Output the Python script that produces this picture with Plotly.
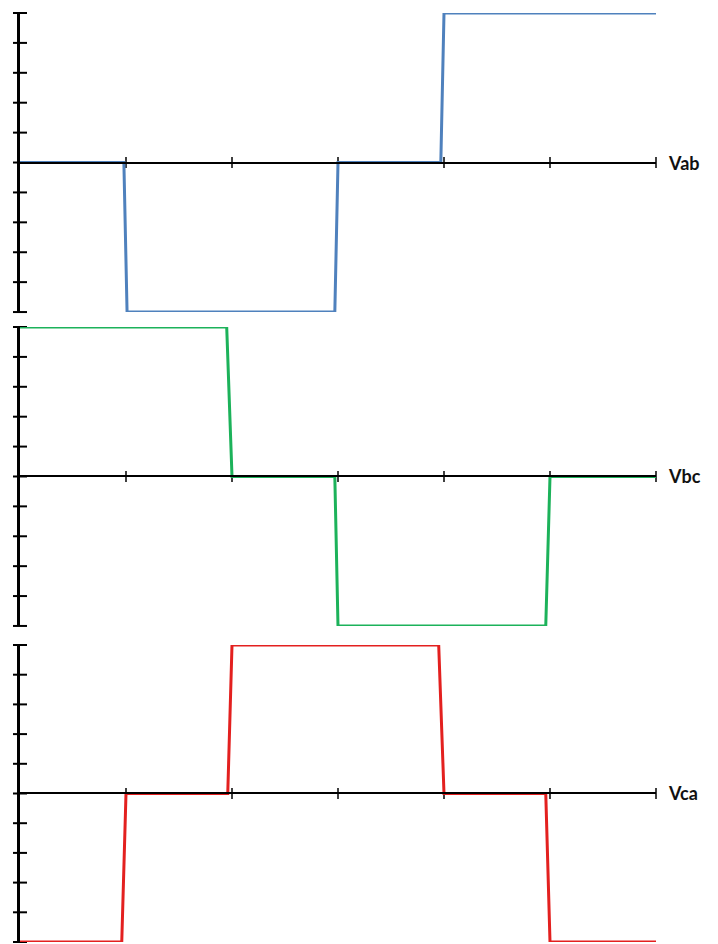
import plotly.graph_objects as go
from plotly.subplots import make_subplots

# phase-to-phase voltage waveforms (step shapes, one unit = 60 deg)
t_ab = [0, 0.98, 1.01, 2.97, 3.0, 3.97, 4.0, 6]
v_ab = [0, 0, -5, -5, 0, 0, 5, 5]

t_bc = [0, 1.95, 2.0, 2.97, 3.0, 4.96, 5.0, 6]
v_bc = [5, 5, 0, 0, -5, -5, 0, 0]

t_ca = [0, 0.96, 1.0, 1.96, 2.0, 3.95, 4.0, 4.96, 5.0, 6]
v_ca = [-5, -5, 0, 0, 5, 5, 0, 0, -5, -5]

labels = ["Vab", "Vbc", "Vca"]
colors = ["#4F81BD", "#1CB25A", "#E3201F"]

y_ticks = [-5, -4, -3, -2, -1, 0, 1, 2, 3, 4, 5]
x_ticks = [1, 2, 3, 4, 5, 6]

series = [(t_ab, v_ab), (t_bc, v_bc), (t_ca, v_ca)]

# -------------------------------
# layout of the three panels
# -------------------------------
domains = [(0.6781, 1.0), (0.3402, 0.6620), (0.0, 0.3197)]

fig = make_subplots(rows=3, cols=1)

for i, ((t, v), name, col) in enumerate(zip(series, labels, colors)):
    r = i + 1
    # cross ticks on the y axis
    fig.add_trace(go.Scatter(
        x=[0] * len(y_ticks), y=y_ticks, mode="markers",
        marker=dict(symbol="line-ew", size=10, line=dict(color="black", width=2)),
        cliponaxis=False, hoverinfo="skip", showlegend=False
    ), row=r, col=1)
    # cross ticks on the zero line
    fig.add_trace(go.Scatter(
        x=x_ticks, y=[0] * len(x_ticks), mode="markers",
        marker=dict(symbol="line-ns", size=8, line=dict(color="black", width=1.5)),
        cliponaxis=False, hoverinfo="skip", showlegend=False
    ), row=r, col=1)
    # waveform
    fig.add_trace(go.Scatter(
        x=t, y=v, mode="lines", line=dict(color=col, width=3),
        cliponaxis=False, showlegend=False
    ), row=r, col=1)

    d0, d1 = domains[i]
    ax = "" if r == 1 else str(r)
    fig.update_layout({
        f"yaxis{ax}": dict(
            domain=[d0, d1], range=[-5, 5], showgrid=False, zeroline=False,
            showticklabels=False, showline=True, linecolor="black", linewidth=2.5,
        ),
        f"xaxis{ax}": dict(
            domain=[0, 1], range=[0, 6], showgrid=False, zeroline=False,
            showticklabels=False, showline=True, linecolor="black", linewidth=1.6,
            anchor="free", position=(d0 + d1) / 2,
        ),
    })
    fig.add_annotation(
        x=6, y=0, xref=f"x{ax}", yref=f"y{ax}", text=f"<b>{name}</b>",
        showarrow=False, xanchor="left", xshift=10,
        font=dict(family="Lato", size=18, color="#111111")
    )

# page body adds 8px offset, so size/margins are trimmed to match
fig.update_layout(
    width=710, height=936,
    margin=dict(l=12, r=62, t=5, b=2),
    plot_bgcolor="white", paper_bgcolor="white",
)

fig.write_html("out.html")
